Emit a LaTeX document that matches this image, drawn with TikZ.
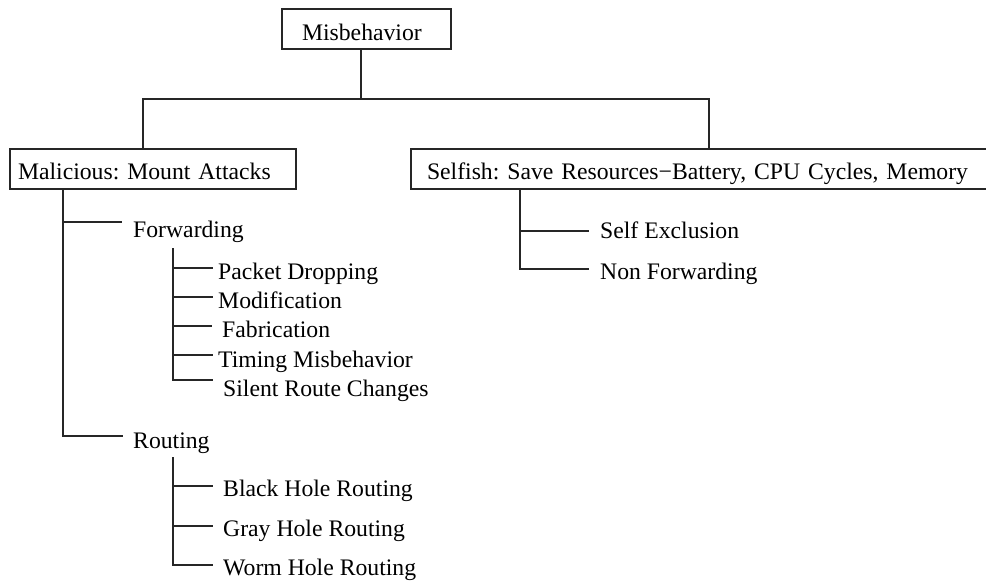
\documentclass[tikz,border=0pt]{standalone}
\usepackage{fontspec}
\setmainfont{Liberation Serif}
\frenchspacing
\begin{document}
\begin{tikzpicture}[x=1pt,y=-1pt,
  every node/.style={font=\fontsize{23.7}{28}\selectfont\frenchspacing},
  conn/.style={draw=black!85, line width=1.1pt},
  box/.style={draw=black!85, line width=1.1pt, inner ysep=0pt, minimum height=40pt, align=left, text depth=0pt},
  leaf/.style={anchor=base west, inner sep=0pt}]
\useasboundingbox (0,0) rectangle (986,581);

% boxes
\node[box, inner xsep=20pt, text width=129pt, text height=23pt] (mis) at (366.5,29) {Misbehavior};
\node[box, inner xsep=8pt, text width=270pt, text height=20pt] (mal) at (153,169) {Malicious: Mount Attacks};
\node[box, inner xsep=16pt, text width=557pt, text height=20pt] (sel) at (705.5,169) {Selfish: Save Resources{\char"2212}Battery, CPU Cycles, Memory};

% leaves
\node[leaf] (fwd) at (133,237) {Forwarding};
\node[leaf] (pd)  at (218,279) {Packet Dropping};
\node[leaf] (mo)  at (218,308) {Modification};
\node[leaf] (fa)  at (222,337) {Fabrication};
\node[leaf] (tm)  at (218,367) {Timing Misbehavior};
\node[leaf] (si)  at (223,396) {Silent Route Changes};
\node[leaf] (rt)  at (133,448) {Routing};
\node[leaf] (bh)  at (223,496) {Black Hole Routing};
\node[leaf] (gh)  at (223,536) {Gray Hole Routing};
\node[leaf] (wh)  at (223,575) {Worm Hole Routing};
\node[leaf] (se)  at (600,238) {Self Exclusion};
\node[leaf] (nf)  at (600,279) {Non Forwarding};

% junction coordinates
\coordinate (j)  at (361,99);
\coordinate (jL) at (143,99);
\coordinate (jR) at (709,99);
\coordinate (mT) at (63,436);
\coordinate (fwL) at (122,222);
\coordinate (rtL) at (123,436);
\coordinate (fTop) at (173,248);
\coordinate (fT) at (173,380);
\coordinate (pdL) at (213,268);
\coordinate (moL) at (213,297);
\coordinate (faL) at (212,326);
\coordinate (tmL) at (213,355);
\coordinate (siL) at (213,380);
\coordinate (rTop) at (173,457);
\coordinate (rT) at (173,565);
\coordinate (bhL) at (213,486);
\coordinate (ghL) at (213,526);
\coordinate (whL) at (213,565);
\coordinate (sT) at (520,269);
\coordinate (seL) at (589,231);
\coordinate (nfL) at (589,269);

% connectors
\draw[conn] (j |- mis.south) -- (j);
\draw[conn] (jL |- mal.north) -- (jL) -- (jR) -- (jR |- sel.north);
\draw[conn] (mT |- mal.south) -- (mT) -- (rtL);
\draw[conn] (fwL -| mT) -- (fwL);
\draw[conn] (fTop) -- (fT) -- (siL);
\draw[conn] (pdL -| fT) -- (pdL);
\draw[conn] (moL -| fT) -- (moL);
\draw[conn] (faL -| fT) -- (faL);
\draw[conn] (tmL -| fT) -- (tmL);
\draw[conn] (rTop) -- (rT) -- (whL);
\draw[conn] (bhL -| rT) -- (bhL);
\draw[conn] (ghL -| rT) -- (ghL);
\draw[conn] (sT |- sel.south) -- (sT) -- (nfL);
\draw[conn] (seL -| sT) -- (seL);
\end{tikzpicture}
\end{document}
